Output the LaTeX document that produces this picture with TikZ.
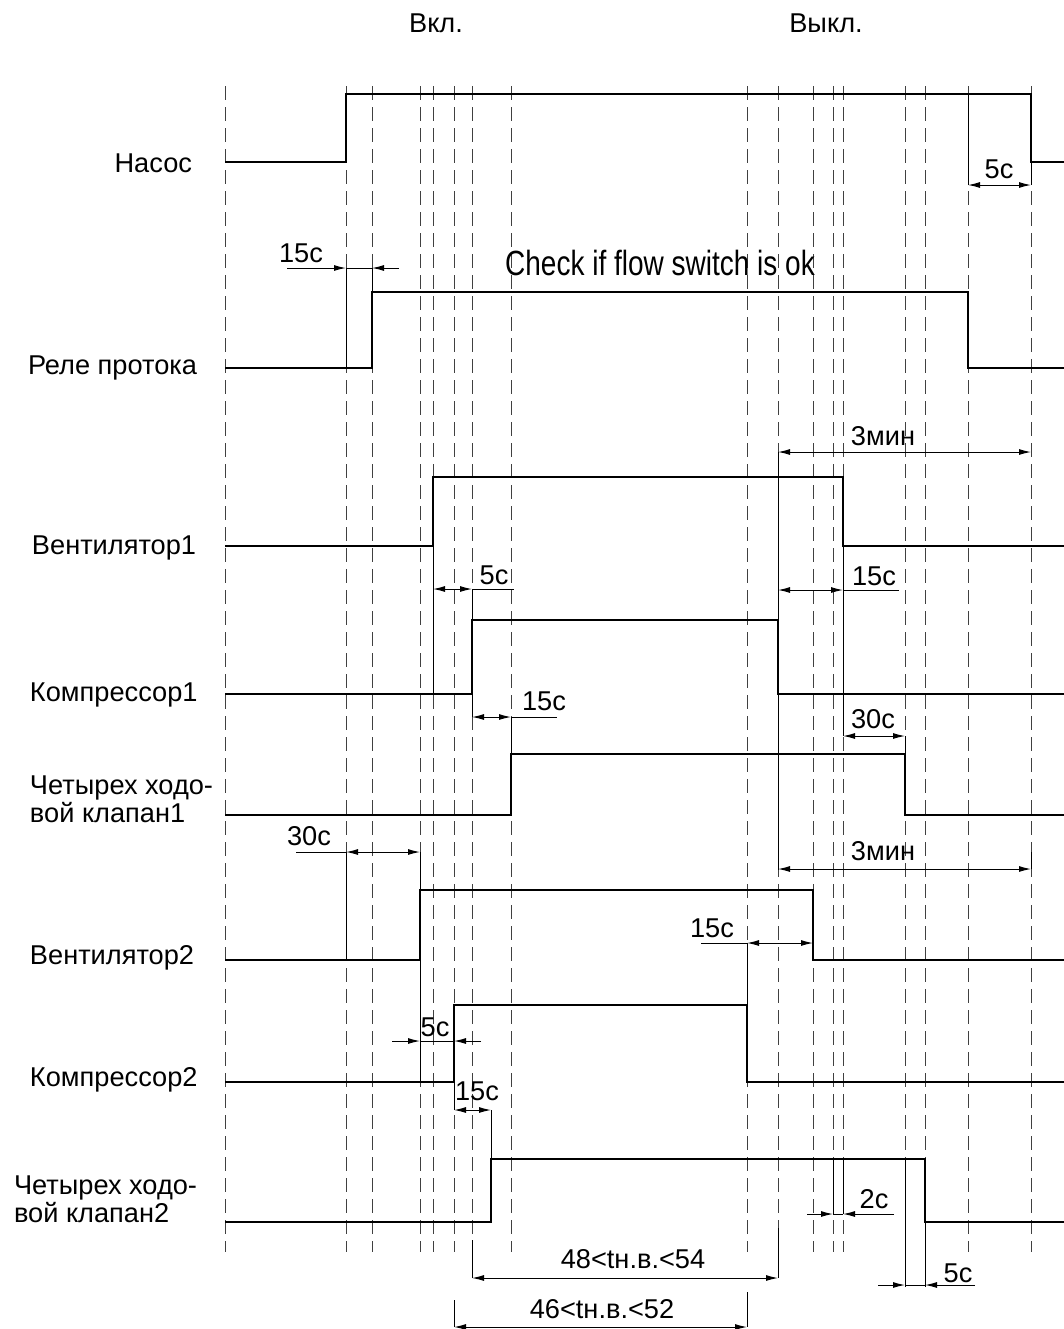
\documentclass[tikz,border=0pt]{standalone}
\usepackage{fontspec}
\setmainfont{Liberation Sans}
\newfontfamily\condfont[FakeStretch=0.8]{Liberation Sans}
\usetikzlibrary{arrows.meta}

\tikzset{
  guide/.style={draw=black!75, line width=0.5pt, dash pattern=on 7pt off 3.5pt},
  signal/.style={draw=black, line width=0.6pt},
  extline/.style={draw=black, line width=0.5pt},
  dimline/.style={draw=black, line width=0.5pt, {Latex[length=6pt,width=3pt]}-{Latex[length=6pt,width=3pt]}},
  tipline/.style={draw=black, line width=0.5pt, -{Latex[length=6pt,width=3pt]}},
  lbl/.style={inner sep=0, outer sep=0, font=\fontsize{13.6pt}{11.5pt}\selectfont},
}

\begin{document}
\begin{tikzpicture}[x=0.5pt, y=-0.5pt]
  \useasboundingbox (0,0) rectangle (1064,1329);

  \node[lbl, anchor=base] (on) at (436,32) {Вкл.};
  \node[lbl, anchor=base] (off) at (826,32) {Выкл.};

  \foreach \t in {225,346,372,420,433,454,472,511,747,778,813,833,843,905,925,968,1031}
    \draw[guide] (\t,86) -- (\t,1252);

  \draw[signal] (225,162) -| (346,94) -| (1031,162) -- (1064,162);
  \draw[signal] (225,368) -| (372,292) -| (968,368) -- (1064,368);
  \draw[signal] (225,546) -| (433,477) -| (843,546) -- (1064,546);
  \draw[signal] (225,694) -| (472,620) -| (778,694) -- (1064,694);
  \draw[signal] (225,815) -| (511,754) -| (905,815) -- (1064,815);
  \draw[signal] (225,960) -| (420,890) -| (813,960) -- (1064,960);
  \draw[signal] (225,1082) -| (454,1005) -| (747,1082) -- (1064,1082);
  \draw[signal] (225,1222) -| (491,1159) -| (925,1222) -- (1064,1222);

  \node[lbl, anchor=base east] (pump) at (192,172) {Насос};
  \node[lbl, anchor=base west] (flow) at (28,374) {Реле протока};
  \node[lbl, anchor=base west] (fan1) at (32,554) {Вентилятор1};
  \node[lbl, anchor=base west] (comp1) at (30,701) {Компрессор1};
  \node[lbl, anchor=base west, align=left] (valve1) at (30,822) {Четырех ходо-\\вой клапан1};
  \node[lbl, anchor=base west] (fan2) at (30,964) {Вентилятор2};
  \node[lbl, anchor=base west] (comp2) at (30,1086) {Компрессор2};
  \node[lbl, anchor=base west, align=left] (valve2) at (14,1222) {Четырех ходо-\\вой клапан2};

  \node[inner sep=0, anchor=base, font=\condfont\fontsize{17.5pt}{20pt}\selectfont] (check) at (660,275) {Check if flow switch is ok};

  \draw[extline] (346,268) -- (346,368);
  \draw[extline] (372,268) -- (372,368);
  \draw[tipline] (287,268) -- (346,268);
  \draw[tipline] (399,268) -- (372,268);
  \draw[extline] (346,268) -- (372,268);
  \node[lbl, anchor=base] (d-flow) at (301,262) {15с};

  \draw[extline] (968,94) -- (968,185);
  \draw[extline] (1031,162) -- (1031,185);
  \draw[dimline] (968,185) -- (1031,185);
  \node[lbl, anchor=base] (d-pump) at (999,178) {5с};

  \draw[extline] (778,452) -- (778,870);
  \draw[dimline] (778,452) -- (1031,452);
  \node[lbl, anchor=base] (d-min1) at (883,445) {3мин};

  \draw[extline] (433,546) -- (433,694);
  \draw[dimline] (433,589) -- (472,589);
  \draw[extline] (472,589) -- (514,589);
  \draw[extline] (472,589) -- (472,620);
  \node[lbl, anchor=base] (d-comp1-on) at (494,584) {5с};

  \draw[extline] (843,546) -- (843,736);
  \draw[dimline] (778,590) -- (843,590);
  \draw[extline] (843,590) -- (899,590);
  \node[lbl, anchor=base] (d-comp1-off) at (874,585) {15с};

  \draw[extline] (472,694) -- (472,717);
  \draw[extline] (511,717) -- (511,754);
  \draw[dimline] (472,717) -- (511,717);
  \draw[extline] (511,717) -- (557,717);
  \node[lbl, anchor=base] (d-valve1-on) at (544,710) {15с};

  \draw[extline] (905,736) -- (905,754);
  \draw[dimline] (843,736) -- (905,736);
  \node[lbl, anchor=base] (d-valve1-off) at (873,728) {30с};

  \draw[extline] (1031,852) -- (1031,869);
  \draw[dimline] (778,869) -- (1031,869);
  \node[lbl, anchor=base] (d-min2) at (883,860) {3мин};

  \draw[extline] (346,852) -- (346,960);
  \draw[extline] (420,852) -- (420,1082);
  \draw[dimline] (346,852) -- (420,852);
  \draw[extline] (296,852) -- (346,852);
  \node[lbl, anchor=base] (d-fan2-on) at (309,845) {30с};

  \draw[extline] (747,943) -- (747,1005);
  \draw[dimline] (747,943) -- (813,943);
  \draw[extline] (701,943) -- (747,943);
  \node[lbl, anchor=base] (d-fan2-off) at (712,937) {15с};

  \draw[tipline] (392,1041) -- (420,1041);
  \draw[tipline] (481,1041) -- (454,1041);
  \draw[extline] (420,1041) -- (454,1041);
  \node[lbl, anchor=base] (d-comp2-on) at (435,1036) {5с};

  \draw[extline] (454,1082) -- (454,1110);
  \draw[extline] (491,1110) -- (491,1159);
  \draw[dimline] (454,1110) -- (491,1110);
  \node[lbl, anchor=base] (d-valve2-on) at (477,1100) {15с};

  \draw[extline] (833,1159) -- (833,1214);
  \draw[extline] (843,1159) -- (843,1214);
  \draw[tipline] (807,1214) -- (833,1214);
  \draw[tipline] (894,1214) -- (843,1214);
  \draw[extline] (833,1214) -- (843,1214);
  \node[lbl, anchor=base] (d-gap) at (874,1208) {2с};

  \draw[extline] (905,1159) -- (905,1287);
  \draw[extline] (925,1222) -- (925,1287);
  \draw[tipline] (878,1285) -- (905,1285);
  \draw[tipline] (975,1285) -- (925,1285);
  \draw[extline] (905,1285) -- (925,1285);
  \node[lbl, anchor=base] (d-valve2-off) at (958,1282) {5с};

  \draw[extline] (472,1240) -- (472,1278);
  \draw[extline] (778,1228) -- (778,1278);
  \draw[dimline] (472,1278) -- (778,1278);
  \node[lbl, anchor=base] (d-cycle1) at (633,1268) {48<tн.в.<54};

  \draw[extline] (454,1300) -- (454,1327);
  \draw[extline] (747,1292) -- (747,1327);
  \draw[dimline] (454,1327) -- (747,1327);
  \node[lbl, anchor=base] (d-cycle2) at (602,1318) {46<tн.в.<52};
\end{tikzpicture}
\end{document}
